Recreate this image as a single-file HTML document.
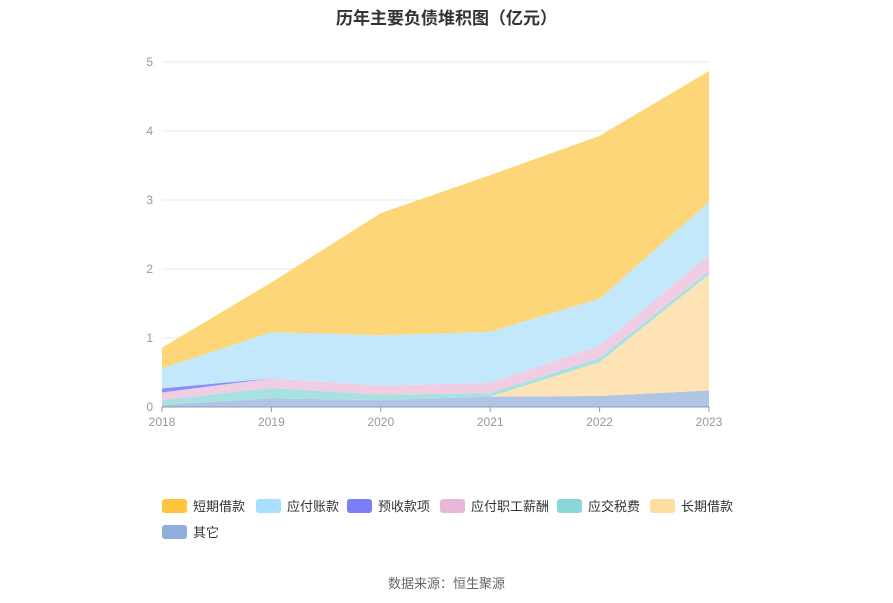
<!DOCTYPE html>
<html><head><meta charset="utf-8">
<style>
body{margin:0;background:#fff;font-family:"Liberation Sans","Noto Sans CJK SC",sans-serif;}
#wrap{position:relative;width:893px;height:603px;overflow:hidden}
.title{position:absolute;top:4px;left:0;width:893px;text-align:center;font-size:17px;font-weight:bold;color:#333}
.src{position:absolute;top:573px;left:0;width:893px;text-align:center;font-size:13px;color:#666}
.leg{position:absolute;display:flex;align-items:center;font-size:13px;color:#333}
.leg i{display:inline-block;width:25px;height:14px;border-radius:3px;margin-right:6px}
</style></head><body>
<div id="wrap">
<div class="title">历年主要负债堆积图（亿元）</div>
<svg id="svg" width="893" height="603" style="position:absolute;left:0;top:0"></svg>
<div id="legend"></div>
<div class="src">数据来源：恒生聚源</div>
</div>
<script>
const years=["2018","2019","2020","2021","2022","2023"];
const names=["其它","长期借款","应交税费","应付职工薪酬","预收款项","应付账款","短期借款"];
const sOther=[0.03,0.125,0.10,0.15,0.16,0.24];
const sLong=[0,0,0,0,0.49,1.68];
const sTax=[0.07,0.15,0.08,0.05,0.06,0.05];
const sStaff=[0.11,0.14,0.13,0.15,0.18,0.23];
const sAdv=[0.06,0.0,0,0,0,0];
const sPay=[0.29,0.67,0.73,0.74,0.68,0.77];
const sShort=[0.30,0.72,1.77,2.27,2.36,1.90];
const yTicks=[0,1,2,3,4,5];
const series=[sOther,sLong,sTax,sStaff,sAdv,sPay,sShort];
const fills=["#b0c4e4","#fde3b6","#a8e1e1","#efcde3","#8a8ef8","#c4e8fb","#fdd67a"];
const legCols=["#ffc53d","#a8dffc","#7b7ff7","#e8b8d8","#8ad7d7","#ffdd9f","#8eaedb"];
const x=i=>162+i*(709-162)/(years.length-1);
const y=v=>407-v*69;
const NS="http://www.w3.org/2000/svg";
const svg=document.getElementById('svg');
function mk(t,a){const e=document.createElementNS(NS,t);for(const k in a)e.setAttribute(k,a[k]);svg.appendChild(e);return e;}
yTicks.forEach(t=>{
 if(t>0){const g=mk('line',{x1:162,x2:709,y1:y(t),y2:y(t),stroke:'#e6eaf2'});
 
 }
 const l=mk('text',{x:153,y:y(t)+4,'text-anchor':'end','font-size':12,fill:'#999'});l.textContent=t;
 
 
});
let base=years.map(()=>0);
series.forEach((s,k)=>{
 const top=base.map((b,i)=>b+s[i]);
 let d='M'+years.map((_,i)=>x(i)+','+y(top[i])).join('L');
 for(let i=years.length-1;i>=0;i--)d+='L'+x(i)+','+y(base[i]);
 const p=mk('path',{d:d+'Z',fill:fills[k]});
 
 
 base=top;
});
const ax=mk('line',{x1:162,x2:709,y1:407,y2:407,stroke:'#8f9bb3'});


years.forEach((yr,i)=>{
 const tk=mk('line',{x1:x(i),x2:x(i),y1:407,y2:412,stroke:'#8f9bb3'});
 
 
 const t=mk('text',{x:x(i),y:426,'text-anchor':'middle','font-size':12,fill:'#999'});t.textContent=yr;
 
 
});
const legNames=["短期借款","应付账款","预收款项","应付职工薪酬","应交税费","长期借款","其它"];
const legPos=[[162,505],[256,505],[347,505],[440,505],[557,505],[650,505],[162,531]];
const lg=document.getElementById('legend');
legNames.forEach((n,i)=>{
 const d=document.createElement('div');d.className='leg';
 d.style.left=legPos[i][0]+'px';d.style.top=(legPos[i][1]-9)+'px';
 d.innerHTML='<i style="background:'+legCols[i]+'"></i>'+n;
 
 
 lg.appendChild(d);
});
</script>
</body></html>
